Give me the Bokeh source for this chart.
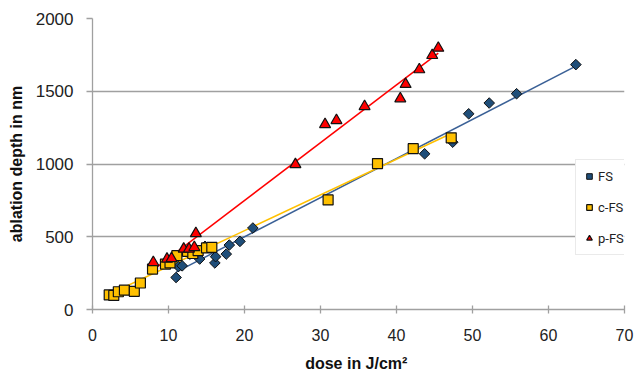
import numpy as np
from bokeh.plotting import figure
from bokeh.models import Range1d, Legend, LegendItem, FixedTicker
from bokeh.embed import file_html
from bokeh.resources import INLINE

# FS (diamonds)
fs_x = [11.0, 11.3, 11.8, 12.8, 14.1, 14.8, 16.1, 16.2, 17.6, 18.0, 19.4, 21.1,
        43.7, 47.4, 49.5, 52.2, 55.8, 63.6]
fs_y = [220, 295, 300, 380, 347, 434, 320, 363, 381, 443, 468, 560,
        1070, 1150, 1345, 1419, 1483, 1683]

# c-FS (squares)
cfs_x = [2.2, 2.8, 3.4, 4.2, 5.5, 6.3, 7.9, 9.6, 10.2, 11.1, 12.5, 13.2, 13.9,
         15.0, 15.7, 31.0, 37.5, 42.2, 47.2]
cfs_y = [100, 97, 122, 133, 125, 182, 278, 312, 320, 370, 400, 385, 404,
         423, 427, 753, 1003, 1105, 1180]

# p-FS (triangles)
pfs_x = [8.0, 9.8, 10.4, 12.0, 12.7, 13.4, 13.6, 26.7, 30.6, 32.1, 35.8,
         40.5, 41.2, 43.0, 44.7, 45.5]
pfs_y = [324, 347, 351, 416, 416, 427, 523, 997, 1272, 1300, 1396,
         1449, 1548, 1649, 1747, 1797]

x_ticks = [0, 10, 20, 30, 40, 50, 60, 70]
y_ticks = [0, 500, 1000, 1500, 2000]

FONT = "Liberation Sans"
GRID = "#a0a0a0"

p = figure(width=635, height=374, output_backend="svg", toolbar_location=None,
           x_range=Range1d(0, 70), y_range=Range1d(0, 2000),
           min_border_left=92, min_border_right=11, min_border_top=18,
           min_border_bottom=65)
p.outline_line_color = None
p.background_fill_color = "white"
p.border_fill_color = "white"

p.xgrid.grid_line_color = None
p.ygrid.grid_line_color = GRID
p.ygrid.grid_line_width = 1.3
p.ygrid.ticker = FixedTicker(ticks=y_ticks)

p.xaxis.ticker = FixedTicker(ticks=x_ticks)
p.yaxis.ticker = FixedTicker(ticks=y_ticks)
for ax in (p.xaxis[0], p.yaxis[0]):
    ax.axis_line_color = GRID
    ax.axis_line_width = 1.3
    ax.major_tick_line_color = GRID
    ax.major_tick_line_width = 1.3
    ax.minor_tick_line_color = None
    ax.major_label_text_font = FONT
    ax.major_label_text_font_size = "16px"
    ax.major_label_text_color = "#222222"
    ax.axis_label_text_font = FONT
    ax.axis_label_text_font_style = "bold"
    ax.axis_label_text_font_size = "16px"
    ax.axis_label_text_color = "#111111"
p.yaxis.major_label_text_font_size = "17px"

p.xaxis.major_tick_in = 4
p.xaxis.major_tick_out = 4
p.yaxis.major_tick_in = 0
p.yaxis.major_tick_out = 6
p.xaxis.major_label_standoff = 15
p.yaxis.major_label_standoff = 13
p.xaxis.axis_label = "dose  in J/cm²"
p.yaxis.axis_label = "ablation depth in nm"
p.xaxis.axis_label_standoff = 11
p.yaxis.axis_label_standoff = 8

# trend lines (least-squares fits of each series)
def trend(xs, ys):
    k, b = np.polyfit(xs, ys, 1)
    xx = [min(xs), max(xs)]
    return xx, [k * v + b for v in xx]

tx, ty = trend(fs_x, fs_y)
p.line(tx, ty, line_color="#3a6096", line_width=1.5)
tx, ty = trend(cfs_x, cfs_y)
p.line(tx, ty, line_color="#ffc000", line_width=1.5)
tx, ty = trend(pfs_x, pfs_y)
p.line(tx, ty, line_color="#ff0000", line_width=1.5)

r_fs = p.scatter(fs_x, fs_y, marker="square", angle=np.pi / 4, size=7.5,
                 fill_color="#1f4e79", line_color="#111111", line_width=1)
r_cfs = p.scatter(cfs_x, cfs_y, marker="square", size=10, fill_color="#ffc000",
                  line_color="#111111", line_width=1.2)
r_pfs = p.scatter(pfs_x, pfs_y, marker="triangle", size=11, fill_color="#ff0000",
                  line_color="#111111", line_width=1.2)

legend = Legend(items=[LegendItem(label="FS", renderers=[r_fs]),
                       LegendItem(label="c-FS", renderers=[r_cfs]),
                       LegendItem(label="p-FS", renderers=[r_pfs])],
                location=(483, 54))
legend.label_text_font = "Roboto"
legend.label_text_font_size = "13px"
legend.label_text_color = "#222222"
legend.glyph_width = 14
legend.glyph_height = 20
legend.label_height = 20
legend.label_standoff = 2
legend.spacing = 11
legend.padding = 6
legend.margin = 0
legend.border_line_color = "#d6d6d6"
legend.background_fill_color = "white"
legend.background_fill_alpha = 1
p.add_layout(legend, "center")

open("out.html", "w").write(file_html(p, INLINE))
